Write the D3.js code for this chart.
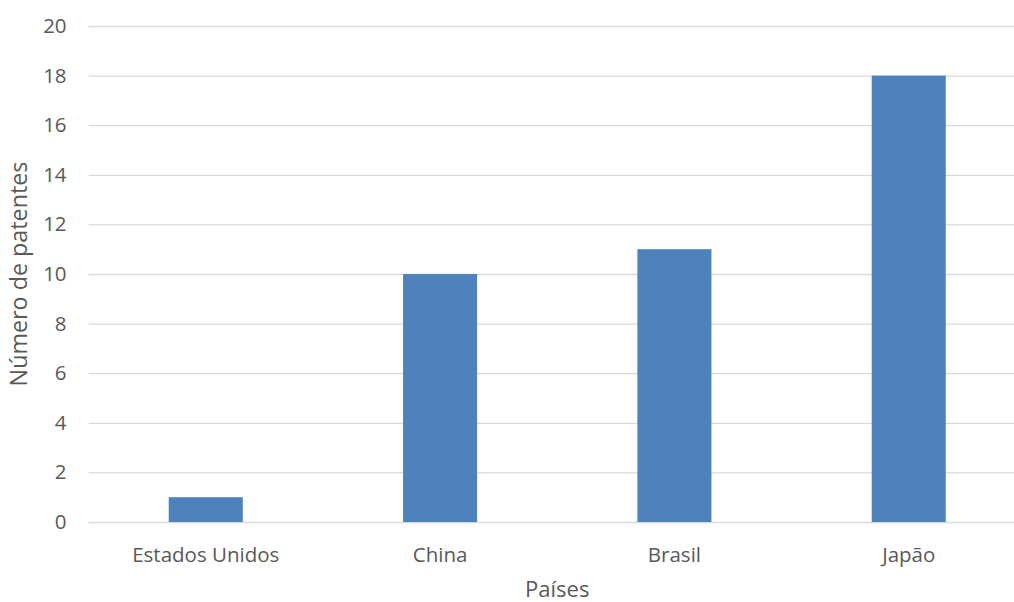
<!DOCTYPE html>
<html>
<head>
<meta charset="utf-8">
<script src="https://cdn.jsdelivr.net/npm/d3@7"></script>
<style>
  html, body { margin: 0; padding: 0; background: #fff; overflow: hidden; }
  text { font-family: "Open Sans", sans-serif; fill: #595959; }
</style>
</head>
<body>
<svg id="chart" width="1014" height="602"></svg>
<script>
// Patents per country
const countries = ["Estados Unidos", "China", "Brasil", "Japão"];
const patents = [1, 10, 11, 18];
const yTicks = [0, 2, 4, 6, 8, 10, 12, 14, 16, 18, 20];
const xTitle = "Países";
const yTitle = "Número de patentes";

const svg = d3.select("#chart");
const plot = { left: 88.6, right: 1025.9, top: 26, bottom: 522 };

const x = d3.scaleBand()
  .domain(countries)
  .range([plot.left, plot.right])
  .paddingInner(0.684)
  .paddingOuter(0.342);

const y = d3.scaleLinear()
  .domain([0, 20])
  .range([plot.bottom, plot.top]);

// horizontal gridlines with labels
const yAxis = d3.axisLeft(y)
  .tickValues(yTicks)
  .tickSize(-(plot.right - plot.left))
  .tickPadding(22)
  .tickFormat(d3.format("d"));

const gy = svg.append("g")
  .attr("transform", `translate(${plot.left},0)`)
  .call(yAxis);
gy.select(".domain").remove();
gy.selectAll(".tick line").attr("stroke", "#D9D9D9").attr("stroke-width", 1.3);
gy.selectAll(".tick text")
  .attr("font-size", 20.5)
  .attr("fill", "#595959");

// bars
svg.append("g").selectAll("rect")
  .data(patents)
  .join("rect")
  .attr("x", (d, i) => x(countries[i]))
  .attr("y", d => y(d))
  .attr("width", x.bandwidth())
  .attr("height", d => y(0) - y(d))
  .attr("fill", "#4F81BD");

// category axis labels
const xAxis = d3.axisBottom(x).tickSize(0).tickPadding(25);
const gx = svg.append("g")
  .attr("transform", `translate(0,${plot.bottom})`)
  .call(xAxis);
gx.select(".domain").remove();
gx.selectAll(".tick text")
  .attr("font-size", 20.5)
  .attr("fill", "#595959");

// axis titles
svg.append("text")
  .attr("x", (plot.left + plot.right) / 2)
  .attr("y", 597)
  .attr("text-anchor", "middle")
  .attr("font-size", 22)
  .text(xTitle);

svg.append("text")
  .attr("transform", `translate(27,274) rotate(-90)`)
  .attr("text-anchor", "middle")
  .attr("font-size", 23.3)
  .text(yTitle);
</script>
</body>
</html>
